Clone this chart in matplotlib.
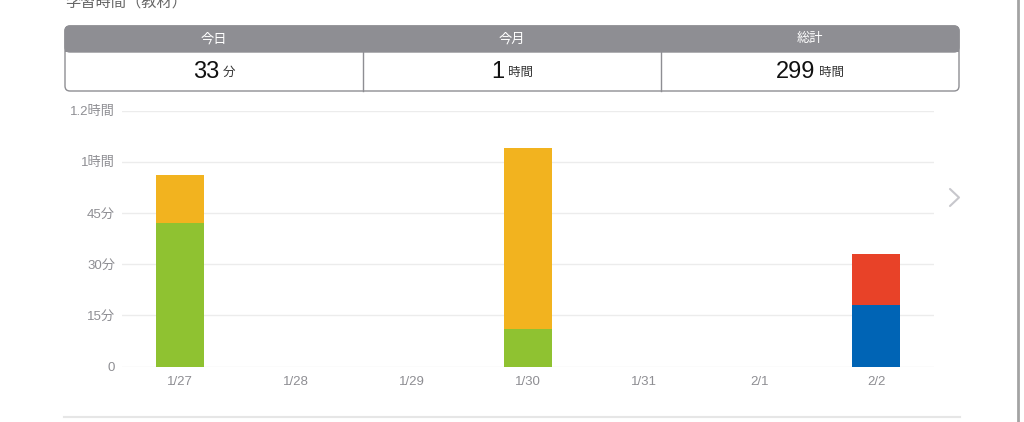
import matplotlib
matplotlib.use('Agg')
import matplotlib.pyplot as plt
from matplotlib.patches import FancyBboxPatch, Rectangle
import numpy as np

plt.rcParams['font.family'] = ['Liberation Sans', 'Noto Sans CJK JP', 'DejaVu Sans']

# データ (分)
dates = ['1/27', '1/28', '1/29', '1/30', '1/31', '2/1', '2/2']
green = [42, 0, 0, 11, 0, 0, 0]
blue = [0, 0, 0, 0, 0, 0, 18]
orange = [14, 0, 0, 53, 0, 0, 0]
red = [0, 0, 0, 0, 0, 0, 15]
series = [(green, '#8fc231'), (blue, '#0064b5'), (orange, '#f2b31f'), (red, '#e84228')]

ytick_vals = [0, 15, 30, 45, 60, 75]
ytick_labels = ['0', '15分', '30分', '45分', '1時間', '1.2時間']

summary_heads = ['今日', '今月', '総計']
summary_nums = ['33', '1', '299']
summary_units = ['分', '時間', '時間']

W, H = 1024, 422
fig = plt.figure(figsize=(W / 100, H / 100), dpi=100)

# 背景用の座標 (ピクセル)
bg = fig.add_axes([0, 0, 1, 1])
bg.set_xlim(0, W)
bg.set_ylim(H, 0)
bg.axis('off')

# タイトル (上が切れている)
bg.text(65, 2, '学習時間（教材）', fontsize=11, color='#666666', ha='left', va='center')

# サマリー表
x0, x1, y0, ym, y1 = 65, 959, 26, 52, 91
box = FancyBboxPatch((x0, y0), x1 - x0, y1 - y0, boxstyle='round,pad=0,rounding_size=5',
                     fc='white', ec='#8e8e93', lw=1.0)
bg.add_patch(box)
head = FancyBboxPatch((x0, y0), x1 - x0, ym - y0, boxstyle='round,pad=0,rounding_size=5',
                      fc='#8e8e93', ec='#8e8e93', lw=1.0)
bg.add_patch(head)
bg.add_patch(Rectangle((x0, y0 + 12), x1 - x0, ym - y0 - 12, fc='#8e8e93', ec='none'))

col_w = (x1 - x0) / 3
for i in range(1, 3):
    bg.plot([x0 + col_w * i] * 2, [ym, y1], color='#8e8e93', lw=1.0)

fig.canvas.draw()
r = fig.canvas.get_renderer()
for i in range(3):
    cx = x0 + col_w * (i + 0.5)
    bg.text(cx, (y0 + ym) / 2, summary_heads[i], fontsize=9.5, color='white', ha='center', va='center')
    t1 = bg.text(0, 72, summary_nums[i], fontsize=17, color='#111111', ha='left', va='center')
    t2 = bg.text(0, 73, summary_units[i], fontsize=9, color='#333333', ha='left', va='center')
    w1 = t1.get_window_extent(r).width
    w2 = t2.get_window_extent(r).width
    gap = 3
    start = cx - (w1 + gap + w2) / 2
    t1.set_x(start)
    t2.set_x(start + w1 + gap)

# 右の矢印
bg.plot([950, 959, 950], [189, 197.5, 206], color='#c7c7cc', lw=1.5, solid_capstyle='round')
# 下の区切り線
bg.plot([64, 960], [416.5, 416.5], color='#e6e6e6', lw=1.5)
# 右端の縦線
bg.plot([1017.5, 1017.5], [0, H], color='#a3a3a3', lw=2.0)

# グラフ
ax = fig.add_axes([122 / W, 1 - 366.5 / H, (934 - 122) / W, (366.5 - 110.5) / H])
x = np.arange(len(dates))
bottom = np.zeros(len(dates))
for vals, col in series:
    v = np.array(vals, dtype=float)
    ax.bar(x, v, width=0.41, bottom=bottom, color=col, zorder=3)
    bottom += v

ax.set_xlim(-0.5, len(dates) - 0.5)
ax.set_ylim(0, 75)
ax.set_yticks(ytick_vals)
ax.set_yticklabels(ytick_labels)
ax.set_xticks(x)
ax.set_xticklabels(dates)
ax.grid(axis='y', color='#ececec', lw=1.0, zorder=0)
for s in ax.spines.values():
    s.set_visible(False)
ax.tick_params(axis='both', length=0, labelsize=9.5, labelcolor='#8e8e93')
ax.tick_params(axis='y', pad=5)
ax.tick_params(axis='x', pad=7)
ax.patch.set_alpha(0)

fig.savefig('out.png', dpi=100)
